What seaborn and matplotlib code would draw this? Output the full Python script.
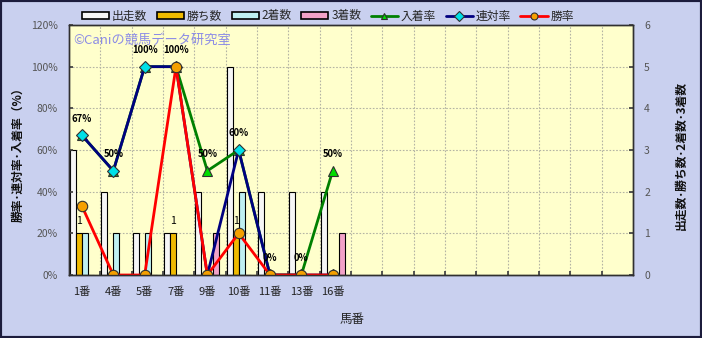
import matplotlib
matplotlib.use('Agg')
import matplotlib.pyplot as plt
import seaborn as sns
import pandas as pd
from matplotlib.patches import Rectangle, Patch
from matplotlib.lines import Line2D
from matplotlib.ticker import FuncFormatter

# ---- data ----
horses = ['1番', '4番', '5番', '7番', '9番', '10番', '11番', '13番', '16番']
starts = [3, 2, 1, 1, 2, 5, 2, 2, 2]          # 出走数
wins = [1, 0, 0, 1, 0, 1, 0, 0, 0]            # 勝ち数
seconds = [1, 1, 1, 0, 0, 2, 0, 0, 0]         # 2着数
thirds = [0, 0, 0, 0, 1, 0, 0, 0, 1]          # 3着数
place_rate = [67, 50, 100, 100, 50, 60, 0, 0, 50]   # 入着率
rentai_rate = [67, 50, 100, 100, 0, 60, 0, 0, 0]    # 連対率
win_rate = [33, 0, 0, 100, 0, 20, 0, 0, 0]          # 勝率
bar_names = ['出走数', '勝ち数', '2着数', '3着数']
line_names = ['入着率', '連対率', '勝率']
n_slots = 18

sns.set_theme(style='white')
plt.rcParams['font.family'] = ['Noto Sans CJK JP', 'DejaVu Sans']

bar_colors = {'出走数': '#f6f6f6', '勝ち数': '#efba00', '2着数': '#bff0f2', '3着数': '#f2a2c8'}

fig = plt.figure(figsize=(7.02, 3.38), dpi=100)
fig.patch.set_facecolor('#c9d0ef')
ax = fig.add_axes([69 / 702, 63 / 338, 564 / 702, 250 / 338])
ax.set_facecolor('#ffffcc')

df = pd.DataFrame({
    '馬番': horses * 4,
    '系列': sum([[n] * len(horses) for n in bar_names], []),
    '値': starts + wins + seconds + thirds,
})
sns.barplot(data=df, x='馬番', y='値', hue='系列', order=horses, hue_order=bar_names,
            palette=bar_colors, width=0.77, gap=0.04, edgecolor='black', linewidth=0.8,
            saturation=1, ax=ax, legend=False, zorder=2)

# labels on win bars
gold = ax.containers[1]
ax.bar_label(gold, labels=['1' if v else '' for v in wins], padding=5, fontsize=7.5, color='black')

ax2 = ax.twinx()
ax.yaxis.tick_right()
ax.yaxis.set_label_position('right')
ax2.yaxis.tick_left()
ax2.yaxis.set_label_position('left')

xpos = list(range(len(horses)))
line_specs = [
    (place_rate, '#008000', '^', '#00dd00'),
    (rentai_rate, '#000080', 'D', '#00e0e8'),
    (win_rate, '#ff0000', 'o', '#f5a000'),
]
for vals, c, m, mf in line_specs:
    sns.lineplot(x=xpos, y=vals, ax=ax2, color=c, linewidth=2, marker=m,
                 markersize=7.5 if m != 'D' else 6, markerfacecolor=mf,
                 markeredgecolor='#303030', markeredgewidth=0.8, errorbar=None)

for i, v in enumerate(place_rate):
    ax2.annotate(f'{v}%', (i, v), xytext=(0, 12), textcoords='offset points',
                 ha='center', va='center', fontsize=6.8, fontweight='bold', color='black')

ax.set_ylim(0, 6)
ax2.set_ylim(0, 120)
left = -0.415
ax.set_xlim(left, left + n_slots)
ax.set_yticks(range(0, 7))
ax2.set_yticks(range(0, 121, 20))
ax2.yaxis.set_major_formatter(FuncFormatter(lambda v, p: f'{int(v)}%'))

bounds = [left + k for k in range(1, n_slots)]
ax.set_xticks(bounds)
ax.set_xticklabels([''] * len(bounds))
ax.set_xticks(xpos, minor=True)
ax.set_xticklabels(horses, minor=True)
ax.set_xlabel('')
ax.set_ylabel('')
ax2.set_ylabel('')

ax.set_axisbelow(True)
ax.grid(True, axis='both', which='major', linestyle=(0, (1.5, 1.5)), color='#b4b4a4', linewidth=0.8)
ax2.grid(False)

ax.tick_params(axis='x', which='major', direction='in', length=3, bottom=True, color='#404040')
ax.tick_params(axis='x', which='minor', length=0, labelsize=8, pad=8, labelcolor='#222222')
ax.tick_params(axis='y', direction='in', length=3, right=True, left=False, labelsize=7.5,
               labelcolor='#555555', pad=8, color='#404040')
ax2.tick_params(axis='y', direction='in', length=3, left=True, right=False, labelsize=7.5,
                labelcolor='#555555', pad=8, color='#404040')
for sp in ax.spines.values():
    sp.set_color('#303030')
    sp.set_linewidth(1)
for sp in ax2.spines.values():
    sp.set_color('#303030')
    sp.set_linewidth(1)

fig.text(18 / 702, 1 - 152 / 338, '勝率･連対率･入着率（%）', rotation=90, ha='center', va='center',
         fontsize=8.5, fontweight='bold', color='#111111')
fig.text(681 / 702, 1 - 155 / 338, '出走数･勝ち数･2着数･3着数', rotation=90, ha='center', va='center',
         fontsize=8.5, fontweight='bold', color='#111111')
fig.text(352 / 702, 1 - 320 / 338, '馬番', ha='center', va='center', fontsize=9, color='#222222')
fig.text(73 / 702, 1 - 40 / 338, '©Caniの競馬データ研究室', ha='left', va='center',
         fontsize=9.5, color='#8c8ce6')

handles = [Patch(facecolor=bar_colors[n], edgecolor='black', linewidth=1.2) for n in bar_names]
for vals, c, m, mf in line_specs:
    handles.append(Line2D([], [], color=c, linewidth=2, marker=m, markersize=5,
                          markerfacecolor=mf, markeredgecolor='#303030', markeredgewidth=0.8))
fig.legend(handles, bar_names + line_names, ncol=7, loc='center',
           bbox_to_anchor=(328 / 702, 1 - 16 / 338), frameon=False, fontsize=8.5,
           handlelength=2.3, handleheight=0.5, handletextpad=0.25, columnspacing=0.8)

fig.add_artist(Rectangle((0, 0), 1, 1, transform=fig.transFigure, fill=False,
                         edgecolor='#1c1c3c', linewidth=3))

fig.savefig('out.png', dpi=100)
